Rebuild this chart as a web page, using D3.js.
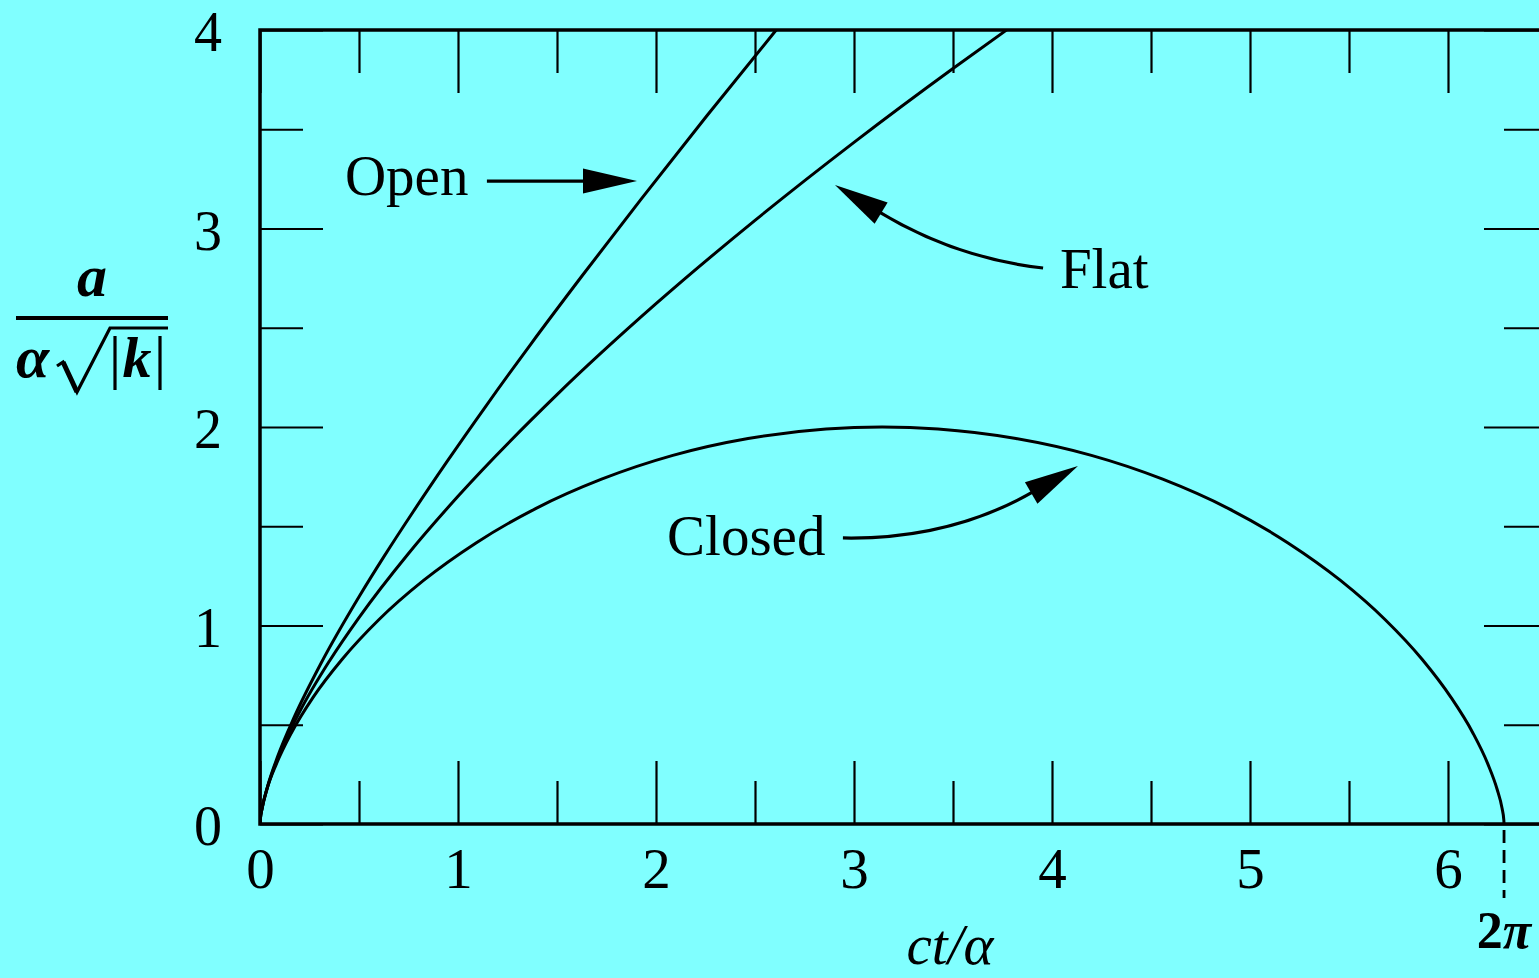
<!DOCTYPE html>
<html>
<head>
<meta charset="utf-8">
<script src="https://cdn.jsdelivr.net/npm/d3@7"></script>
<style>
  html, body { margin: 0; padding: 0; background: #80ffff; overflow: hidden; }
  svg { display: block; }
  text { font-family: "Liberation Serif", "Times New Roman", serif; fill: #000; }
</style>
</head>
<body>
<svg id="chart" width="1539" height="978"></svg>
<script>
// Scale factor a/(α√|k|) against ct/α for the three Friedmann models
const openT   = [0, 0.001, 0.011, 0.037, 0.088, 0.175, 0.309, 0.504, 0.629, 0.776, 0.946, 1.142, 1.368, 1.627, 1.922, 2.257, 2.607];
const openA   = [0, 0.020, 0.081, 0.185, 0.337, 0.543, 0.811, 1.151, 1.352, 1.577, 1.828, 2.107, 2.418, 2.762, 3.144, 3.568, 4.000];

const flatT   = [0, 0.002, 0.010, 0.030, 0.060, 0.100, 0.200, 0.350, 0.500, 0.750, 1.000, 1.500, 2.000, 2.500, 3.000, 3.500, 3.771];
const flatA   = [0, 0.026, 0.077, 0.159, 0.253, 0.356, 0.565, 0.820, 1.040, 1.363, 1.651, 2.163, 2.621, 3.041, 3.434, 3.806, 4.000];

const closedT = [0, 0.001, 0.011, 0.035, 0.083, 0.159, 0.268, 0.415, 0.600, 0.826, 1.091, 1.392, 1.725, 2.085, 2.465, 2.859, 3.142,
                 3.424, 3.818, 4.199, 4.559, 4.892, 5.192, 5.457, 5.683, 5.869, 6.015, 6.125, 6.201, 6.248, 6.273, 6.282, 6.283];
const closedA = [0, 0.020, 0.079, 0.175, 0.303, 0.460, 0.638, 0.830, 1.029, 1.227, 1.416, 1.589, 1.737, 1.857, 1.942, 1.990, 2.000,
                 1.990, 1.942, 1.857, 1.737, 1.589, 1.416, 1.227, 1.029, 0.830, 0.638, 0.460, 0.303, 0.175, 0.079, 0.020, 0];

const xMajorTicks = [0, 1, 2, 3, 4, 5, 6];
const xMinorTicks = [0.5, 1.5, 2.5, 3.5, 4.5, 5.5];
const yMajorTicks = [0, 1, 2, 3, 4];
const yMinorTicks = [0.5, 1.5, 2.5, 3.5];
const xDomain = [0, 6.5];
const yDomain = [0, 4];
const twoPi = 6.283;

// Annotation anchors in data units: label position, arrow tail, bend control, arrow tip
const annotations = [
  { label: "Open",   text: [0.429, 3.169], tail: [1.146, 3.239], ctrl: [1.525, 3.239], tip: [1.904, 3.239] },
  { label: "Flat",   text: [4.040, 2.700], tail: [3.955, 2.801], ctrl: [3.510, 2.851], tip: [2.904, 3.219] },
  { label: "Closed", text: [2.056, 1.355], tail: [2.944, 1.441], ctrl: [3.485, 1.431], tip: [4.131, 1.804] }
];

const margin = { left: 260, top: 30 };
const plotW = 1287, plotH = 794;

const svg = d3.select("#chart");
svg.append("rect").attr("width", 1539).attr("height", 978).attr("fill", "#80ffff");

const x = d3.scaleLinear().domain(xDomain).range([margin.left, margin.left + plotW]);
const y = d3.scaleLinear().domain(yDomain).range([margin.top + plotH, margin.top]);

const FS = 57;
const majorLen = 63, minorLen = 43;

function styleAxis(g) {
  g.select(".domain").remove();
  g.selectAll(".tick line").attr("stroke", "#000").attr("stroke-width", 2.2);
  g.selectAll("text").attr("font-family", "Liberation Serif, serif").attr("font-size", FS).attr("fill", "#000");
  g.attr("font-family", null).attr("font-size", null);
}

// Bottom axis (labelled) and its minor ticks
svg.append("g").attr("transform", `translate(0,${y(0)})`)
  .call(d3.axisBottom(x).tickValues(xMajorTicks).tickFormat(d3.format("d"))
        .tickSizeInner(-majorLen).tickSizeOuter(0).tickPadding(24))
  .call(styleAxis);
svg.append("g").attr("transform", `translate(0,${y(0)})`)
  .call(d3.axisBottom(x).tickValues(xMinorTicks).tickFormat("").tickSizeInner(-minorLen).tickSizeOuter(0))
  .call(styleAxis);

// Top axis ticks
svg.append("g").attr("transform", `translate(0,${y(4)})`)
  .call(d3.axisTop(x).tickValues(xMajorTicks).tickFormat("").tickSizeInner(-majorLen).tickSizeOuter(0))
  .call(styleAxis);
svg.append("g").attr("transform", `translate(0,${y(4)})`)
  .call(d3.axisTop(x).tickValues(xMinorTicks).tickFormat("").tickSizeInner(-minorLen).tickSizeOuter(0))
  .call(styleAxis);

// Left axis (labelled) and minor ticks
svg.append("g").attr("transform", `translate(${x(0)},0)`)
  .call(d3.axisLeft(y).tickValues(yMajorTicks).tickFormat(d3.format("d"))
        .tickSizeInner(-majorLen).tickSizeOuter(0).tickPadding(38))
  .call(styleAxis)
  .call(g => g.selectAll("text").attr("font-size", 56).attr("dy", "0.37em"));
svg.append("g").attr("transform", `translate(${x(0)},0)`)
  .call(d3.axisLeft(y).tickValues(yMinorTicks).tickFormat("").tickSizeInner(-minorLen).tickSizeOuter(0))
  .call(styleAxis);

// Right axis ticks
svg.append("g").attr("transform", `translate(${x(6.5)},0)`)
  .call(d3.axisRight(y).tickValues(yMajorTicks).tickFormat("").tickSizeInner(-majorLen).tickSizeOuter(0))
  .call(styleAxis);
svg.append("g").attr("transform", `translate(${x(6.5)},0)`)
  .call(d3.axisRight(y).tickValues(yMinorTicks).tickFormat("").tickSizeInner(-minorLen).tickSizeOuter(0))
  .call(styleAxis);

// Plot frame
svg.append("rect")
  .attr("x", x(0)).attr("y", y(4))
  .attr("width", x(6.5) - x(0)).attr("height", y(0) - y(4))
  .attr("fill", "none").attr("stroke", "#000").attr("stroke-width", 3.5);

// Curves
svg.append("clipPath").attr("id", "plotClip")
  .append("rect").attr("x", x(0)).attr("y", y(4) - 1).attr("width", x(6.5) - x(0)).attr("height", y(0) - y(4) + 2);

const line = d3.line().x(d => x(d[0])).y(d => y(d[1])).curve(d3.curveMonotoneX);
const series = [
  { name: "open",   t: openT,   a: openA },
  { name: "flat",   t: flatT,   a: flatA },
  { name: "closed", t: closedT, a: closedA }
];
svg.append("g").attr("clip-path", "url(#plotClip)")
  .selectAll("path").data(series).join("path")
  .attr("class", d => "curve " + d.name)
  .attr("d", d => line(d.t.map((t, i) => [t, d.a[i]])))
  .attr("fill", "none").attr("stroke", "#000").attr("stroke-width", 3)
  .attr("stroke-linejoin", "round");

// Dashed marker at 2π
svg.append("line")
  .attr("x1", x(twoPi)).attr("x2", x(twoPi))
  .attr("y1", y(0) + 6).attr("y2", y(0) + 74)
  .attr("stroke", "#000").attr("stroke-width", 2.8).attr("stroke-dasharray", "13,7");
const tp = svg.append("text").attr("x", x(twoPi)).attr("y", 948)
  .attr("text-anchor", "middle").attr("font-size", 52).attr("font-weight", "bold");
tp.append("tspan").text("2");
tp.append("tspan").attr("font-style", "italic").text("π");

// Annotations with arrows
const headLen = 54, headHalf = 12.5;
annotations.forEach(an => {
  svg.append("text").attr("x", x(an.text[0])).attr("y", y(an.text[1]))
    .attr("font-size", FS).text(an.label);
  const P0 = [x(an.tail[0]), y(an.tail[1])];
  const C  = [x(an.ctrl[0]), y(an.ctrl[1])];
  const T  = [x(an.tip[0]),  y(an.tip[1])];
  const dx = T[0] - C[0], dy = T[1] - C[1];
  const len = Math.hypot(dx, dy);
  const ux = dx / len, uy = dy / len;
  const B = [T[0] - ux * headLen, T[1] - uy * headLen];
  const p = d3.path();
  p.moveTo(P0[0], P0[1]);
  p.quadraticCurveTo(C[0], C[1], B[0] + ux * 4, B[1] + uy * 4);
  svg.append("path").attr("d", p.toString())
    .attr("fill", "none").attr("stroke", "#000").attr("stroke-width", 3.2);
  const h = d3.path();
  h.moveTo(T[0], T[1]);
  h.lineTo(B[0] - uy * headHalf, B[1] + ux * headHalf);
  h.lineTo(B[0] + uy * headHalf, B[1] - ux * headHalf);
  h.closePath();
  svg.append("path").attr("d", h.toString()).attr("fill", "#000");
});

// Horizontal axis title
svg.append("text").attr("x", 950).attr("y", 964)
  .attr("text-anchor", "middle").attr("font-size", FS).attr("font-style", "italic")
  .text("ct/α");

// Vertical axis title: a over α√|k|
const yl = svg.append("g").attr("class", "y-title");
yl.append("text").attr("x", 92).attr("y", 296).attr("text-anchor", "middle")
  .attr("font-size", 60).attr("font-weight", "bold").attr("font-style", "italic").text("a");
yl.append("line").attr("x1", 16).attr("x2", 168).attr("y1", 318).attr("y2", 318)
  .attr("stroke", "#000").attr("stroke-width", 4);
yl.append("text").attr("x", 16).attr("y", 377)
  .attr("font-size", 60).attr("font-weight", "bold").attr("font-style", "italic").text("α");
yl.append("path").attr("d", "M57,366 L63,362 L77,392 L110,328 L168,328")
  .attr("fill", "none").attr("stroke", "#000").attr("stroke-width", 3.2).attr("stroke-linejoin", "miter");
yl.append("path").attr("d", "M63,362 L77,392").attr("stroke", "#000").attr("stroke-width", 5);
yl.append("line").attr("x1", 115).attr("x2", 115).attr("y1", 336).attr("y2", 390)
  .attr("stroke", "#000").attr("stroke-width", 3.2);
yl.append("line").attr("x1", 160).attr("x2", 160).attr("y1", 336).attr("y2", 390)
  .attr("stroke", "#000").attr("stroke-width", 3.2);
yl.append("text").attr("x", 137).attr("y", 377).attr("text-anchor", "middle")
  .attr("font-size", 58).attr("font-weight", "bold").attr("font-style", "italic").text("k");
</script>
</body>
</html>
